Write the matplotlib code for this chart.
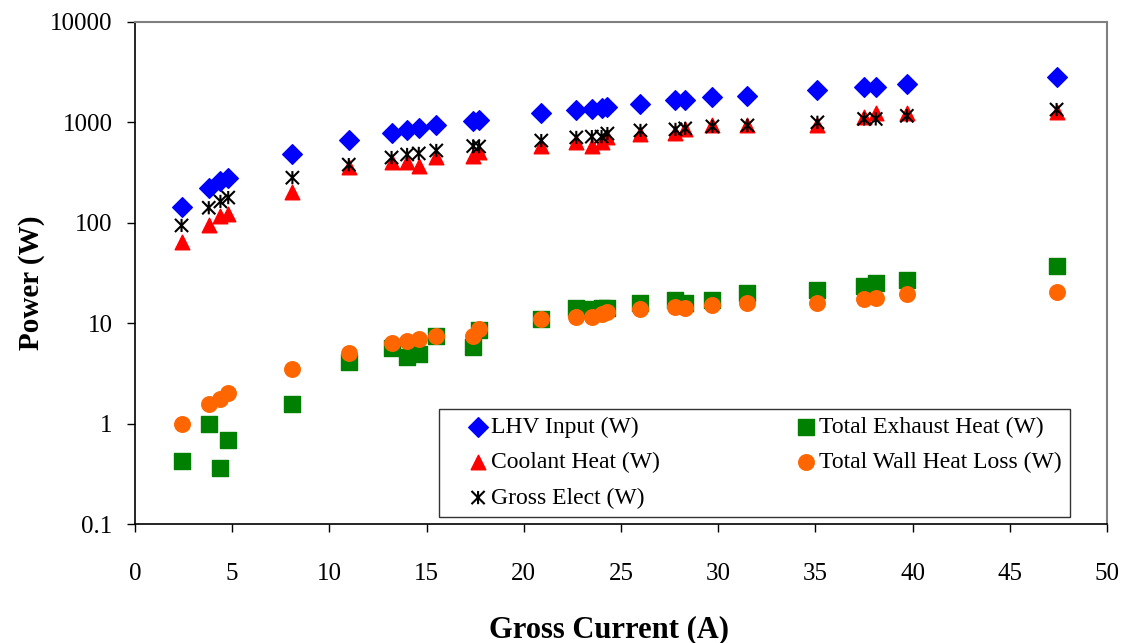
import matplotlib
matplotlib.use('Agg')
from matplotlib import pyplot as plt
from matplotlib.path import Path
from matplotlib.ticker import FixedLocator, NullLocator

current = [2.4, 3.8, 4.4, 4.8, 8.1, 11.0, 13.2, 14.0, 14.6, 15.5, 17.4, 17.7,
           20.9, 22.7, 23.5, 24.0, 24.3, 26.0, 27.8, 28.3, 29.7, 31.5,
           35.1, 37.5, 38.1, 39.7, 47.4]

lhv_input = [145, 224, 263, 281, 478, 659, 790, 830, 870, 930, 1042, 1050,
             1250, 1340, 1370, 1400, 1430, 1530, 1650, 1660, 1770, 1840,
             2090, 2230, 2260, 2380, 2800]

coolant_heat = [64, 96, 116, 123, 203, 356, 405, 398, 364, 456, 465, 510,
                583, 630, 583, 630, 720, 760, 790, 850, 930, 950,
                950, 1140, 1250, 1250, 1280]

gross_elect = [94, 141, 163, 178, 281, 379, 446, 478, 490, 524, 580, 574,
               658, 707, 720, 720, 773, 830, 850, 870, 910, 930,
               1000, 1080, 1080, 1160, 1340]

exhaust_heat = [0.42, 0.98, 0.36, 0.68, 1.58, 4.1, 5.7, 4.6, 4.9, 7.5, 5.8, 8.6,
                11.1, 14.3, 13.7, 14.3, 14.3, 16.0, 17.2, 16.0, 17.2, 20.2,
                21.6, 23.2, 25.3, 27.2, 37.5]

wall_heat = [1.0, 1.55, 1.77, 2.04, 3.5, 5.1, 6.3, 6.7, 7.0, 7.4, 7.4, 8.8,
             11.1, 11.6, 11.6, 12.2, 13.0, 13.7, 14.6, 14.3, 15.3, 16.0,
             16.0, 17.5, 18.0, 19.3, 20.6]

y_ticks = [0.1, 1, 10, 100, 1000, 10000]
y_tick_labels = ['0.1', '1', '10', '100', '1000', '10000']
x_ticks = [0, 5, 10, 15, 20, 25, 30, 35, 40, 45, 50]

# excel style star: an X with a vertical bar through it
star = Path([(-1, -1), (1, 1), (-1, 1), (1, -1), (0, -1), (0, 1)],
            [Path.MOVETO, Path.LINETO, Path.MOVETO, Path.LINETO, Path.MOVETO, Path.LINETO])

plt.rcParams['font.family'] = ['Liberation Serif', 'DejaVu Serif']

fig = plt.figure(figsize=(11.24, 6.43), dpi=100)
ax = fig.add_axes([0.120, 0.185, 0.865, 0.781])

ax.scatter(current, lhv_input, marker='D', s=100, color='#0000ff', label='LHV Input (W)', zorder=3)
ax.scatter(current, coolant_heat, marker='^', s=110, color='#ff0000', label='Coolant Heat (W)', zorder=3)
ax.scatter(current, gross_elect, marker=star, s=90, facecolor='none', edgecolor='black',
           linewidths=1.5, label='Gross Elect (W)', zorder=4)
ax.scatter(current, exhaust_heat, marker='s', s=120, color='#008000', label='Total Exhaust Heat (W)', zorder=3)
ax.scatter(current, wall_heat, marker='o', s=125, color='#ff6600', label='Total Wall Heat Loss (W)', zorder=4)

ax.set_yscale('log')
ax.set_ylim(0.1, 10000)
ax.set_xlim(0, 50)
ax.yaxis.set_major_locator(FixedLocator(y_ticks))
ax.yaxis.set_minor_locator(NullLocator())
ax.set_yticklabels(y_tick_labels)
ax.set_xticks(x_ticks)

ax.tick_params(axis='both', direction='out', length=6, width=1, labelsize=18)
ax.tick_params(axis='y', pad=10)
ax.tick_params(axis='x', pad=22)

for side in ['top', 'right']:
    ax.spines[side].set_color('#808080')
    ax.spines[side].set_linewidth(1.5)
for side in ['left', 'bottom']:
    ax.spines[side].set_color('black')
    ax.spines[side].set_linewidth(1.2)

ax.set_xlabel('Gross Current (A)', fontsize=22, fontweight='bold', labelpad=22)
ax.xaxis.label.set_x(0.488)
ax.set_ylabel('Power (W)', fontsize=21, fontweight='bold', labelpad=4)
ax.yaxis.label.set_y(0.48)

leg = ax.legend(ncol=2, loc='lower right', bbox_to_anchor=(0.962, 0.014), fontsize=17,
                frameon=True, fancybox=False, edgecolor='black', handletextpad=0.25,
                columnspacing=4.9, labelspacing=0.58, borderpad=0.35, handlelength=1.6,
                borderaxespad=0)
leg.get_frame().set_linewidth(1.0)
# nudge the legend symbols towards their labels, as in the original
for h in leg.legend_handles:
    h.set_offsets(h.get_offsets() + [8.5, 0])

fig.savefig('out.png', dpi=100)
